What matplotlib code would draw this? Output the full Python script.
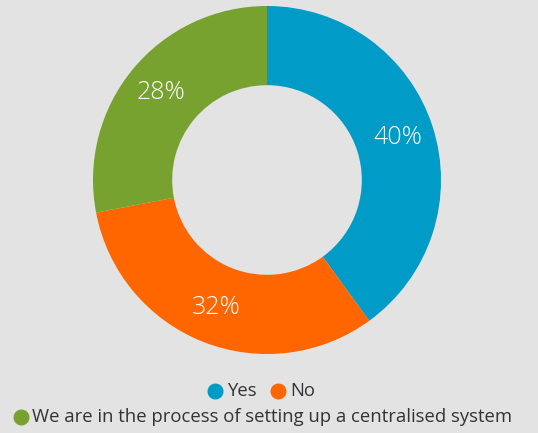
import matplotlib.pyplot as plt

categories = ["Yes", "No", "We are in the process of setting up a centralised system"]
shares = [40, 32, 28]
colors = ["#009bc6", "#ff6600", "#78a22f"]

BG = "#e3e3e3"
TEXT = "#333333"
W, H = 538, 433

fig = plt.figure(figsize=(W / 100, H / 100), dpi=100, facecolor=BG)
ax = fig.add_axes([0, 0, 1, 1])

cx, cy, r = 267, H - 180, 174
wedges, texts, autotexts = ax.pie(
    shares,
    colors=colors,
    center=(cx, cy),
    radius=r,
    startangle=90,
    counterclock=False,
    wedgeprops=dict(width=r * 0.455, linewidth=0),
    autopct=lambda p: f"{p:.0f}%",
    pctdistance=0.79,
    textprops=dict(color="white", fontsize=18, family="Open Sans", fontweight="light"),
    frame=True,
)
ax.set_xlim(0, W)
ax.set_ylim(0, H)
ax.set_aspect("equal")
ax.axis("off")

# legend: first row holds Yes / No, second row the long label
legend_font = dict(fontsize=13.3, color=TEXT, family="Open Sans", va="center")
row1_y = H - 391
ax.plot(215, row1_y, "o", ms=10.5, color=colors[0])
ax.text(227, row1_y, categories[0], **legend_font)
ax.plot(278, row1_y, "o", ms=10.5, color=colors[1])
ax.text(290, row1_y, categories[1], **legend_font)
row2_y = H - 417
ax.plot(21, row2_y, "o", ms=10.5, color=colors[2])
ax.text(32, row2_y, categories[2], **legend_font)

fig.savefig("out.png", dpi=100, facecolor=BG)
